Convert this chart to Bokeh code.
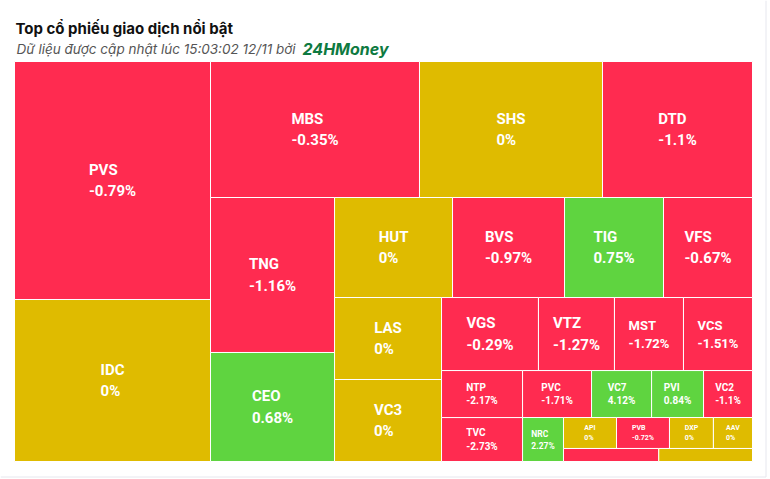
from bokeh.plotting import figure
from bokeh.models import ColumnDataSource, Range1d
from bokeh.core.properties import value
from bokeh.embed import file_html
from bokeh.resources import INLINE

# ---- data ----
tickers = ["PVS", "IDC", "MBS", "SHS", "DTD", "TNG", "CEO", "HUT", "BVS", "TIG",
           "VFS", "LAS", "VC3", "VGS", "VTZ", "MST", "VCS", "NTP", "TVC", "PVC",
           "VC7", "PVI", "VC2", "NRC", "API", "PVB", "DXP", "AAV", "", ""]
trade_values = [46.65, 31.75, 28.42, 24.89, 20.40, 19.22, 13.52, 11.80, 11.20, 9.90,
                8.90, 8.77, 8.77, 7.08, 5.55, 5.04, 5.04, 3.81, 3.56, 3.24,
                2.82, 2.44, 2.30, 1.80, 1.64, 1.64, 1.36, 1.21, 1.24, 1.22]
changes = [-0.79, 0, -0.35, 0, -1.1, -1.16, 0.68, 0, -0.97, 0.75,
           -0.67, 0, 0, -0.29, -1.27, -1.72, -1.51, -2.17, -2.73, -1.71,
           4.12, 0.84, -1.1, 2.27, 0, -0.72, 0, 0, -0.5, 0]
# number of tiles in each strip of the treemap (strips alternate column / row)
strip_sizes = [2, 3, 2, 4, 2, 4, 2, 4, 1, 4, 1, 1]

title = "Top cổ phiếu giao dịch nổi bật"
subtitle = "Dữ liệu được cập nhật lúc 15:03:02 12/11 bởi"
brand = "24HMoney"

PW, PH = 768, 478          # page-sized frame (pixel units)
X0, Y0, W, H = 14, 61, 738, 400   # treemap area
RED, YELLOW, GREEN = "#ff2b50", "#dfbb00", "#5fd440"


def strip_layout(vals, width, height, strips):
    total = float(sum(vals))
    areas = [v * width * height / total for v in vals]
    x0, y0, w, h = 0.0, 0.0, float(width), float(height)
    rects, i, vertical = [], 0, True
    for n in strips:
        grp = areas[i:i + n]
        s = sum(grp)
        if vertical:
            cw = s / h
            yy = y0
            for a in grp:
                ch = a / cw
                rects.append((x0, yy, cw, ch))
                yy += ch
            x0 += cw
            w -= cw
        else:
            rh = s / w
            xx = x0
            for a in grp:
                cw = a / rh
                rects.append((xx, y0, cw, rh))
                xx += cw
            y0 += rh
            h -= rh
        vertical = not vertical
        i += n
    return rects


rects = [(X0 + x, Y0 + y, w, h) for (x, y, w, h) in strip_layout(trade_values, W, H, strip_sizes)]

left = [r[0] for r in rects]
right = [r[0] + r[2] for r in rects]
top = [r[1] for r in rects]
bottom = [r[1] + r[3] for r in rects]
colors = [GREEN if c > 0 else (RED if c < 0 else YELLOW) for c in changes]

src = ColumnDataSource(dict(left=left, right=right, top=top, bottom=bottom, color=colors))

p = figure(frame_width=PW, frame_height=PH, output_backend="svg", toolbar_location=None,
           tools="", x_range=Range1d(0, PW), y_range=Range1d(PH, 0),
           x_axis_location=None, y_axis_location=None,
           min_border_left=0, min_border_right=0, min_border_top=0, min_border_bottom=0)
p.grid.visible = False
p.outline_line_color = None
p.background_fill_color = "white"
p.border_fill_color = "white"

# faint card border
p.segment(x0=[765.5, 0], y0=[0, 476.5], x1=[765.5, 765.5], y1=[476.5, 476.5],
          line_color="#e6e7ee", line_width=1)

p.quad(left="left", right="right", top="top", bottom="bottom", source=src,
       fill_color="color", line_color="#ffffff", line_width=1)


def font_px(v):
    if v >= 5.5:
        return 15
    if v >= 4.5:
        return 13
    if v >= 2.0:
        return 10
    if v >= 1.7:
        return 8.5
    return 7


lx, ly, lt, lfs = [], [], [], []
for name, v, c, (x, y, w, h) in zip(tickers, trade_values, changes, rects):
    fs = font_px(v)
    if 2 * 1.2 * fs + 2 > h or not name:
        continue
    lx.append(x + w / 2)
    ly.append(y + h / 2)
    lt.append(f"{name}\n{c:g}%")
    lfs.append(f"{fs}px")

lsrc = ColumnDataSource(dict(x=lx, y=ly, text=lt, fs=lfs))
p.text(x="x", y="y", text="text", source=lsrc, anchor=value("center"),
       text_align="left", text_baseline="middle", text_font=value("Roboto"),
       text_font_style="bold", text_font_size="fs", text_color="white",
       text_line_height=1.2)

# header texts
p.text(x=[15], y=[28], text=[title], text_font=value("Inter"), text_font_style="bold",
       text_font_size="15px", text_color="#111111", text_baseline="alphabetic")
p.text(x=[16], y=[48], text=[subtitle], text_font=value("Inter"), text_font_style="italic",
       text_font_size="13.5px", text_color="#555555", text_baseline="alphabetic")
p.text(x=[302], y=[48], text=[brand], text_font=value("Inter"), text_font_style="bold italic",
       text_font_size="16px", text_color="#0e7a41", text_baseline="alphabetic")

open("out.html", "w").write(file_html(p, INLINE))
